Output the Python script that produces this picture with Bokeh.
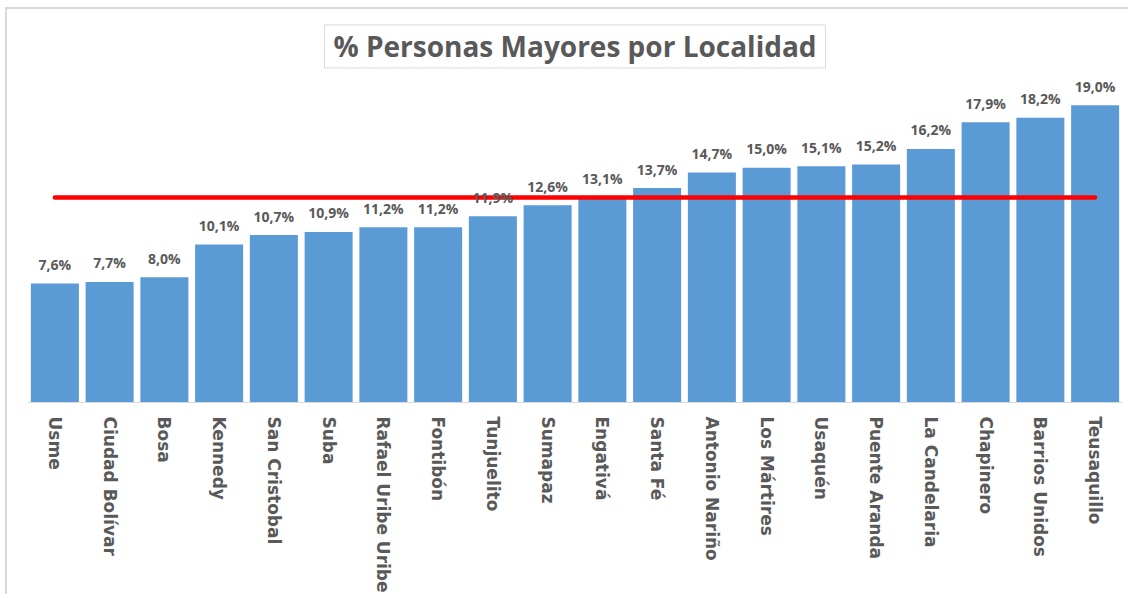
import math
from bokeh.plotting import figure
from bokeh.models import ColumnDataSource, Label, Range1d, FactorRange
from bokeh.core.properties import value
from bokeh.embed import file_html
from bokeh.resources import INLINE

# ---- data ----
localidades = ["Usme", "Ciudad Bolívar", "Bosa", "Kennedy", "San Cristobal", "Suba",
               "Rafael Uribe Uribe", "Fontibón", "Tunjuelito", "Sumapaz", "Engativá",
               "Santa Fé", "Antonio Nariño", "Los Mártires", "Usaquén", "Puente Aranda",
               "La Candelaria", "Chapinero", "Barrios Unidos", "Teusaquillo"]
porcentajes = [7.6, 7.7, 8.0, 10.1, 10.7, 10.9, 11.2, 11.2, 11.9, 12.6, 13.1,
               13.7, 14.7, 15.0, 15.1, 15.2, 16.2, 17.9, 18.2, 19.0]
promedio = 13.1
titulo = "% Personas Mayores por Localidad"

etiquetas = [f"{v:.1f}".replace(".", ",") + "%" for v in porcentajes]

src = ColumnDataSource(dict(x=localidades, y=porcentajes, lab=etiquetas,
                            avg=[promedio] * len(localidades)))

W, H = 1123, 587
p = figure(width=W, height=H, x_range=FactorRange(factors=localidades),
           y_range=Range1d(0, 25.11), output_backend="svg", toolbar_location=None,
           min_border_left=20, min_border_right=8, min_border_top=0, min_border_bottom=194)
p.styles = {"margin-left": "5px", "margin-top": "7px",
            "border-left": "2px solid #d9d9d9", "border-top": "2px solid #d9d9d9"}

p.vbar(x="x", top="y", width=0.877, source=src, fill_color="#5B9BD5", line_color=None)
p.line(x="x", y="avg", source=src, line_color="#FF0000", line_width=4.5, line_cap="round")
p.text(x="x", y="y", text="lab", source=src, text_align="center",
       text_baseline="alphabetic", y_offset=-19, text_font=value("Open Sans"),
       text_font_style="bold", text_font_size="14px", text_color="#595959")

p.add_layout(Label(x=10, y=22.75, text=titulo, text_align="center", text_baseline="middle",
                   text_font="Open Sans", text_font_style="bold", text_font_size="28px",
                   text_color="#595959", border_line_color="#d9d9d9", border_line_width=1,
                   background_fill_color="white",
                   padding=dict(left=9, right=9, top=2, bottom=3)))

p.yaxis.visible = False
p.xgrid.grid_line_color = None
p.ygrid.grid_line_color = None
p.outline_line_color = None
p.xaxis.axis_line_color = "#d9d9d9"
p.xaxis.major_tick_line_color = None
p.xaxis.minor_tick_line_color = None
p.xaxis.major_tick_out = 0
p.xaxis.major_tick_in = 0
p.xaxis.major_label_orientation = -math.pi / 2
p.xaxis.major_label_standoff = 14
p.xaxis.major_label_text_font = "DejaVu Sans"
p.xaxis.major_label_text_font_style = "bold"
p.xaxis.major_label_text_font_size = "17px"
p.xaxis.major_label_text_color = "#595959"
p.x_range.range_padding = 0

open("out.html", "w").write(file_html(p, INLINE))
